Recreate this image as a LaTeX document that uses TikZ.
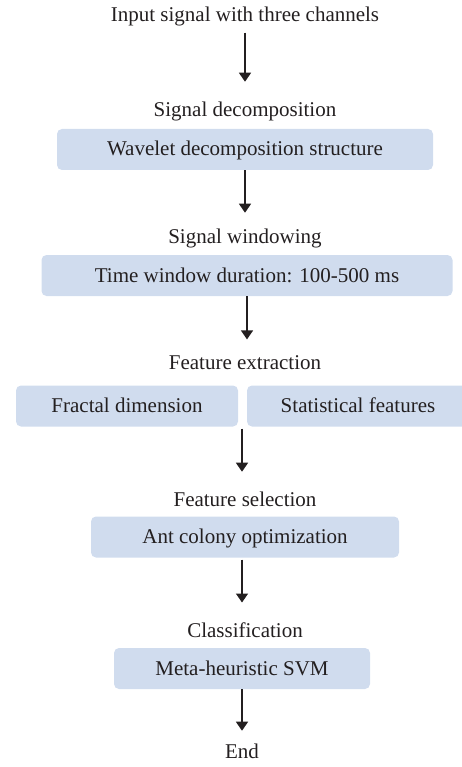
\documentclass[tikz,border=0pt]{standalone}
\usepackage{fontspec}
\setmainfont{Liberation Serif}
\usetikzlibrary{arrows.meta,positioning,calc}
\definecolor{stagefill}{HTML}{D0DCEE}
\definecolor{ink}{HTML}{231F20}

\begin{document}
\begin{tikzpicture}[x=1pt,y=-1pt,
  every node/.style={font=\fontsize{21}{25}\selectfont,text=ink,inner sep=0pt,anchor=base},
  stepbox/.style={fill=stagefill,rounded corners=5pt,minimum height=41pt,
    text height=15pt,text depth=2pt,anchor=center},
  flow/.style={draw=ink,line width=1.4pt,-{Triangle[width=12pt,length=9pt]}}]
  \clip (0,0) rectangle (462,767);

  % stage titles and their boxes
  \node (input) at (245,22) {Input signal with three channels};

  \node (decomp) at (245,117) {Signal decomposition};
  \node[stepbox,minimum width=376pt] (wavelet) at (245,149.5) {Wavelet decomposition structure};

  \node (window) at (245,243) {Signal windowing};
  \node[stepbox,minimum width=411pt] (duration) at (247,275.5) {Time window duration: 100-500 ms};

  \node (extract) at (245,369) {Feature extraction};
  \node[stepbox,minimum width=222pt] (fractal) at (127,406) {Fractal dimension};
  \node[stepbox,minimum width=222pt] (stats) at (358,406) {Statistical features};

  \node (select) at (245,506) {Feature selection};
  \node[stepbox,minimum width=308pt] (aco) at (245,537) {Ant colony optimization};

  \node (classify) at (245,637) {Classification};
  \node[stepbox,minimum width=256pt] (svm) at (242,668.5) {Meta-heuristic SVM};

  \node (finish) at (242,758) {End};
  % both feature boxes feed one arrow from the gap between them
  \coordinate (merge) at (fractal.south -| finish);

  % arrows between stages
  \draw[flow,shorten <=6pt,shorten >=20.5pt] (input.south) -- (decomp.north);
  \draw[flow,shorten >=15.5pt] (wavelet.south) -- (window.north);
  \draw[flow,shorten >=15.5pt] (duration.south) -- (duration.south |- extract.north);
  \draw[flow,shorten <=2pt,shorten >=19.5pt] (merge) -- (merge |- select.north);
  \draw[flow,shorten <=2pt,shorten >=19.5pt] (aco.south -| finish) -- (classify.north -| finish);
  \draw[flow,shorten >=12.5pt] (svm.south -| finish) -- (finish.north);
\end{tikzpicture}
\end{document}
